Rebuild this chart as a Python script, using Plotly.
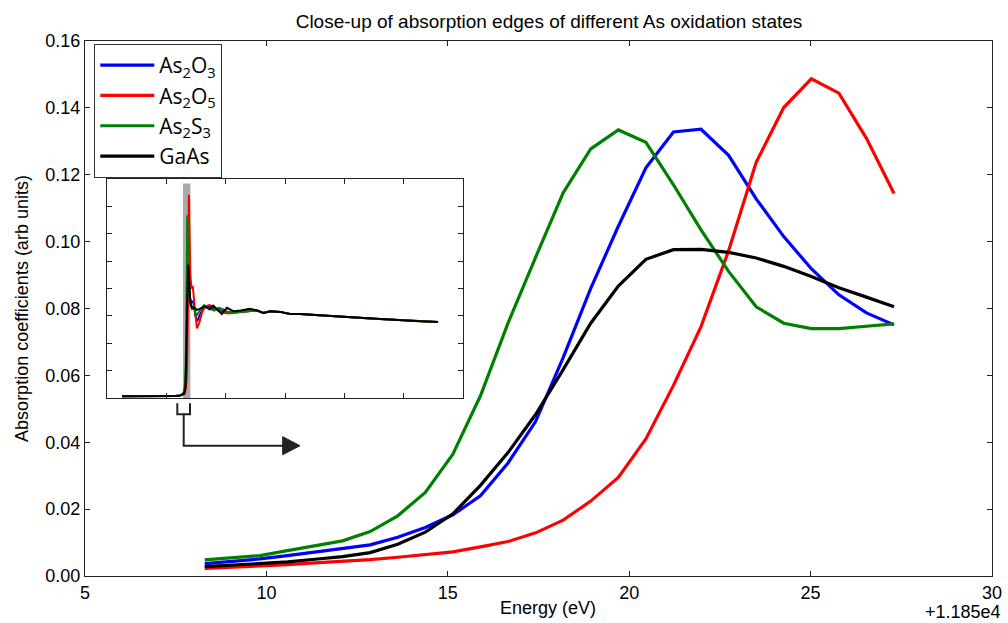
import plotly.graph_objects as go

# ---------------- data ----------------
E_OFFSET = 11850.0

# main close-up: energy relative to 11850 eV
energy_rel = [8.30, 9.06, 9.82, 10.58, 11.34, 12.10, 12.86, 13.62, 14.38, 15.14,
              15.90, 16.66, 17.42, 18.18, 18.94, 19.70, 20.46, 21.22, 21.98, 22.74,
              23.50, 24.26, 25.02, 25.78, 26.54, 27.30]

as2o3 = [0.0037, 0.0043, 0.0051, 0.0061, 0.0072, 0.0081, 0.0093, 0.0116, 0.0145, 0.0183,
         0.0240, 0.0338, 0.0462, 0.0653, 0.0860, 0.1046, 0.1221, 0.1328, 0.1336, 0.1258,
         0.1128, 0.1015, 0.0919, 0.0841, 0.0787, 0.0751]
as2o5 = [0.0023, 0.0026, 0.0030, 0.0034, 0.0039, 0.0043, 0.0049, 0.0056, 0.0063, 0.0072,
         0.0087, 0.0103, 0.0129, 0.0167, 0.0224, 0.0295, 0.0410, 0.0570, 0.0746, 0.0973,
         0.1237, 0.1401, 0.1487, 0.1444, 0.1309, 0.1144]
as2s3 = [0.0048, 0.0054, 0.0061, 0.0076, 0.0090, 0.0105, 0.0133, 0.0180, 0.0250, 0.0364,
         0.0539, 0.0756, 0.0953, 0.1146, 0.1277, 0.1334, 0.1297, 0.1170, 0.1035, 0.0911,
         0.0805, 0.0756, 0.0740, 0.0740, 0.0747, 0.0754]
gaas = [0.0028, 0.0032, 0.0037, 0.0042, 0.0050, 0.0058, 0.0070, 0.0095, 0.0131, 0.0186,
        0.0271, 0.0369, 0.0483, 0.0617, 0.0756, 0.0867, 0.0947, 0.0976, 0.0977, 0.0968,
        0.0951, 0.0926, 0.0896, 0.0862, 0.0834, 0.0805]

# inset: full spectrum (absolute energies)
pre_edge_E = [11650, 11700, 11750, 11800, 11830, 11845, 11852]
pre_edge = [0.0012, 0.0012, 0.0013, 0.0013, 0.0015, 0.0019, 0.0024]

as2o3_post_E = [11880, 11885, 11890, 11897, 11903, 11912, 11925, 11940, 11955, 11970,
                11985, 12000, 12020, 12050, 12080]
as2o3_post = [0.072, 0.070, 0.071, 0.060, 0.056, 0.061, 0.066, 0.067, 0.066, 0.065,
              0.064, 0.063, 0.0625, 0.063, 0.0635]
as2o5_post_E = [11880, 11884, 11888, 11895, 11902, 11910, 11920, 11930, 11945, 11955,
                11970, 11985, 12000, 12020, 12050, 12080]
as2o5_post = [0.090, 0.080, 0.082, 0.066, 0.051, 0.055, 0.063, 0.067, 0.068, 0.067,
              0.065, 0.063, 0.062, 0.062, 0.063, 0.0635]
as2s3_post_E = [11880, 11886, 11892, 11900, 11912, 11926, 11940, 11950, 11960, 11975,
                11990, 12005, 12020, 12050, 12080]
as2s3_post = [0.068, 0.065, 0.066, 0.060, 0.064, 0.068, 0.066, 0.065, 0.064, 0.066,
              0.065, 0.063, 0.0625, 0.063, 0.0635]
gaas_post_E = [11880, 11886, 11893, 11901, 11910, 11928, 11945, 11957, 11974, 11986,
               12003, 12025, 12050, 12081]
gaas_post = [0.070, 0.066, 0.066, 0.0645, 0.065, 0.067, 0.065, 0.0675, 0.064, 0.0615,
             0.066, 0.0635, 0.064, 0.0652]

tail_E = [12105, 12126, 12150, 12183, 12216, 12250, 12300, 12350, 12400, 12450,
          12500, 12550, 12600, 12650, 12715]
tail = [0.0640, 0.0622, 0.0635, 0.0630, 0.0615, 0.0615, 0.0607, 0.0600, 0.0593, 0.0587,
        0.0580, 0.0574, 0.0568, 0.0562, 0.0556]

names = ["As<sub>2</sub>O<sub>3</sub>", "As<sub>2</sub>O<sub>5</sub>",
         "As<sub>2</sub>S<sub>3</sub>", "GaAs"]
colors = ["#0000ff", "#ff0000", "#008000", "#000000"]
main_series = [as2o3, as2o5, as2s3, gaas]
post_series = [(as2o3_post_E, as2o3_post), (as2o5_post_E, as2o5_post),
               (as2s3_post_E, as2s3_post), (gaas_post_E, gaas_post)]

x_ticks = [5, 10, 15, 20, 25, 30]
y_ticks = [0.00, 0.02, 0.04, 0.06, 0.08, 0.10, 0.12, 0.14, 0.16]
inset_x_ticks = [11800, 12000, 12200, 12400, 12600]

# ---------------- layout geometry ----------------
W, H = 1008, 623
ML, MR, MT, MB = 85, 16, 41, 47
PW, PH = W - ML - MR, H - MT - MB


def px(x):
    return (x - ML) / PW


def py(y):
    return (H - MB - y) / PH


FONT = "Liberation Sans, Arial, Helvetica, sans-serif"

fig = go.Figure()

for name, col, ys in zip(names, colors, main_series):
    fig.add_trace(go.Scatter(x=energy_rel, y=ys, mode="lines", name=name,
                             legendgroup=name,
                             line=dict(color=col, width=3.2),
                             xaxis="x", yaxis="y"))

for col, ys, (pe, pv) in zip(colors, main_series, post_series):
    ex = pre_edge_E + [e + E_OFFSET for e in energy_rel] + pe + tail_E
    ey = pre_edge + ys + pv + tail
    fig.add_trace(go.Scatter(x=ex, y=ey, mode="lines", showlegend=False,
                             line=dict(color=col, width=2),
                             xaxis="x2", yaxis="y2"))

axis_common = dict(showgrid=False, zeroline=False, showline=True, linecolor="#222",
                   linewidth=1, mirror="allticks", ticks="inside", ticklen=5,
                   tickcolor="#222", tickwidth=1, automargin=False)

inset_dom_x = [px(107.3), px(463.3)]
inset_dom_y = [py(398), py(179.3)]

fig.update_layout(
    width=W, height=H,
    margin=dict(l=ML, r=MR, t=MT, b=MB, pad=0),
    paper_bgcolor="white", plot_bgcolor="white",
    font=dict(family=FONT, size=18, color="black"),
    title=dict(text="Close-up of absorption edges of different As oxidation states",
               xref="container", x=549 / W, xanchor="center", y=1 - 21 / H,
               yanchor="middle", font=dict(family=FONT, size=19, color="black")),
    xaxis=dict(range=[5, 30], tickvals=x_ticks, ticktext=[str(v) for v in x_ticks],
               ticklabeloverflow="allow", domain=[0, 1], **axis_common),
    yaxis=dict(range=[0, 0.16], tickvals=y_ticks, ticktext=[f"{v:.2f}" for v in y_ticks],
               ticklabeloverflow="allow",
               title=dict(text="Absorption coefficients (arb units)", standoff=12,
                          font=dict(size=18)),
               domain=[0, 1], **axis_common),
    xaxis2=dict(range=[11600, 12800], tickvals=inset_x_ticks, showticklabels=False,
                domain=inset_dom_x, anchor="y2", **axis_common),
    yaxis2=dict(range=[0, 0.16], tickvals=y_ticks, showticklabels=False,
                domain=inset_dom_y, anchor="x2", **axis_common),
    legend=dict(x=px(94.3), y=py(44), xanchor="left", yanchor="top",
                bgcolor="white", bordercolor="#333", borderwidth=1,
                font=dict(family="Open Sans, Noto Sans, sans-serif", size=21),
                itemwidth=54, tracegroupgap=0, traceorder="normal"),
    showlegend=True,
)

# grey band in inset marking the close-up range
fig.add_shape(type="rect", xref="x2", yref="y2", x0=11855, x1=11880, y0=0, y1=0.157,
              fillcolor="#aaaaaa", line=dict(width=0), layer="below")

# bracket + arrow below inset
bracket = (f"M {px(177.3)},{py(403.3)} L {px(177.3)},{py(414.3)} "
           f"L {px(190)},{py(414.3)} L {px(190)},{py(403.3)}")
fig.add_shape(type="path", xref="paper", yref="paper", path=bracket,
              line=dict(color="#222", width=2))
stem = (f"M {px(183.7)},{py(414.3)} L {px(183.7)},{py(445.7)} L {px(286)},{py(445.7)}")
fig.add_shape(type="path", xref="paper", yref="paper", path=stem,
              line=dict(color="#222", width=2))
head = (f"M {px(282.7)},{py(436.7)} L {px(300)},{py(445.7)} L {px(282.7)},{py(454.7)} Z")
fig.add_shape(type="path", xref="paper", yref="paper", path=head,
              fillcolor="#222", line=dict(color="#222", width=1))

# x-axis label
fig.add_annotation(text="Energy (eV)", xref="paper", yref="paper", x=px(548), y=py(608),
                   xanchor="center", yanchor="middle", showarrow=False,
                   font=dict(family=FONT, size=18, color="black"))

# offset text
fig.add_annotation(text="+1.185e4", xref="paper", yref="paper", x=px(1003), y=py(612),
                   xanchor="right", yanchor="middle", showarrow=False,
                   font=dict(family=FONT, size=18, color="black"))

fig.write_html("out.html")
